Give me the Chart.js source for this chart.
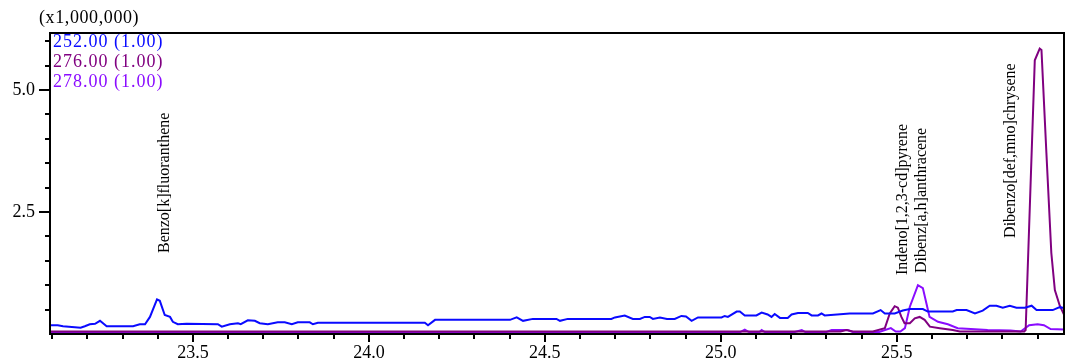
<!DOCTYPE html>
<html>
<head>
<meta charset="utf-8">
<script src="https://cdn.jsdelivr.net/npm/chart.js@4.4.1/dist/chart.umd.min.js"></script>
<style>
  html, body { margin: 0; padding: 0; background: #fff; }
  #chart { display: block; }
</style>
</head>
<body>
<canvas id="chart" width="1066" height="362"></canvas>
<script>
"use strict";

// retention time (min) / intensity (x1,000,000)
var times252 = [23.094, 23.102, 23.116, 23.131, 23.181, 23.193, 23.207, 23.222, 23.236, 23.255, 23.330, 23.349, 23.364, 23.378, 23.398, 23.406, 23.420, 23.435, 23.443, 23.457, 23.482, 23.571, 23.582, 23.605, 23.628, 23.636, 23.656, 23.676, 23.690, 23.713, 23.741, 23.761, 23.781, 23.798, 23.832, 23.841, 23.855, 24.159, 24.168, 24.188, 24.401, 24.420, 24.438, 24.466, 24.533, 24.543, 24.565, 24.689, 24.699, 24.727, 24.750, 24.770, 24.784, 24.798, 24.807, 24.827, 24.847, 24.869, 24.888, 24.901, 24.917, 24.935, 25.002, 25.011, 25.020, 25.045, 25.054, 25.068, 25.101, 25.116, 25.133, 25.144, 25.153, 25.168, 25.190, 25.201, 25.219, 25.247, 25.258, 25.276, 25.286, 25.295, 25.366, 25.432, 25.454, 25.466, 25.494, 25.517, 25.537, 25.574, 25.588, 25.659, 25.670, 25.698, 25.722, 25.744, 25.764, 25.783, 25.801, 25.821, 25.840, 25.864, 25.883, 25.897, 25.943, 25.963, 25.975];
var int252 = [0.18, 0.18, 0.18, 0.16, 0.13, 0.16, 0.20, 0.21, 0.27, 0.16, 0.16, 0.20, 0.20, 0.35, 0.71, 0.68, 0.39, 0.35, 0.25, 0.20, 0.21, 0.20, 0.15, 0.20, 0.22, 0.20, 0.28, 0.27, 0.22, 0.20, 0.24, 0.24, 0.20, 0.24, 0.24, 0.20, 0.23, 0.23, 0.18, 0.29, 0.29, 0.34, 0.27, 0.31, 0.31, 0.27, 0.31, 0.31, 0.34, 0.38, 0.31, 0.31, 0.35, 0.35, 0.31, 0.34, 0.31, 0.31, 0.37, 0.36, 0.27, 0.34, 0.34, 0.37, 0.35, 0.46, 0.46, 0.38, 0.38, 0.44, 0.40, 0.35, 0.41, 0.33, 0.33, 0.40, 0.43, 0.43, 0.38, 0.38, 0.42, 0.38, 0.42, 0.42, 0.49, 0.42, 0.42, 0.48, 0.51, 0.51, 0.46, 0.46, 0.49, 0.49, 0.42, 0.48, 0.58, 0.58, 0.54, 0.58, 0.54, 0.54, 0.58, 0.49, 0.49, 0.55, 0.53];

var times276 = [23.094, 25.340, 25.357, 25.375, 25.432, 25.466, 25.480, 25.494, 25.503, 25.513, 25.522, 25.537, 25.551, 25.565, 25.579, 25.594, 25.622, 25.659, 25.679, 25.862, 25.866, 25.892, 25.906, 25.911, 25.925, 25.939, 25.949, 25.963, 25.975];
var int276 = [0.05, 0.05, 0.08, 0.05, 0.05, 0.12, 0.42, 0.57, 0.54, 0.35, 0.22, 0.22, 0.32, 0.35, 0.29, 0.15, 0.12, 0.08, 0.05, 0.05, 0.08, 5.61, 5.85, 5.82, 3.71, 1.66, 0.90, 0.58, 0.40];

var times278 = [23.094, 25.055, 25.068, 25.080, 25.110, 25.116, 25.125, 25.210, 25.230, 25.240, 25.300, 25.315, 25.360, 25.375, 25.450, 25.483, 25.497, 25.510, 25.523, 25.537, 25.560, 25.574, 25.584, 25.593, 25.617, 25.645, 25.673, 25.710, 25.758, 25.823, 25.852, 25.876, 25.900, 25.918, 25.937, 25.975];
var int278 = [0.04, 0.04, 0.09, 0.04, 0.04, 0.08, 0.04, 0.04, 0.08, 0.04, 0.04, 0.08, 0.08, 0.04, 0.04, 0.12, 0.05, 0.05, 0.12, 0.56, 1.00, 0.94, 0.63, 0.35, 0.25, 0.20, 0.12, 0.10, 0.08, 0.07, 0.05, 0.18, 0.20, 0.18, 0.10, 0.09];

var seriesNames = ["252.00 (1.00)", "276.00 (1.00)", "278.00 (1.00)"];
var seriesColors = ["#0a0aff", "#800080", "#8a0cff"];

var xTickLabels = ["23.5", "24.0", "24.5", "25.0", "25.5"];
var yTickLabels = ["2.5", "5.0"];
var yUnitLabel = "(x1,000,000)";

// peak annotations: name, time where text sits, level where text starts
var peakNames = ["Benzo[k]fluoranthene", "Indeno[1,2,3-cd]pyrene", "Dibenz[a,h]anthracene", "Dibenzo[def,mno]chrysene"];
var peakTimes = [23.420, 25.518, 25.570, 25.824];
var peakLevels = [1.66, 1.21, 1.25, 1.97];

var FONT = "'Liberation Serif', 'Times New Roman', serif";

function toPoints(xs, ys) {
    var out = [];
    for (var i = 0; i < xs.length; i++) {
        out.push({ x: xs[i], y: ys[i] });
    }
    return out;
}

function stepTicks(from, to, step) {
    var out = [];
    for (var v = from; v <= to + 1e-9; v += step) {
        out.push({ value: Math.round(v * 100) / 100 });
    }
    return out;
}

// frame, tick marks, legend text, unit label and peak names
var chromPlugin = {
    id: "chrom",
    afterDraw: function (chart) {
        var ctx = chart.ctx;
        var area = chart.chartArea;
        var xs = chart.scales.x;
        var ys = chart.scales.y;
        ctx.save();

        ctx.strokeStyle = "#000";
        ctx.lineWidth = 2;
        ctx.strokeRect(area.left, area.top, area.right - area.left, area.bottom - area.top);

        ctx.beginPath();
        xs.ticks.forEach(function (t) {
            var px = Math.round(xs.getPixelForValue(t.value));
            var len = xTickLabels.indexOf(t.value.toFixed(1)) >= 0 ? 8 : 5;
            ctx.moveTo(px, area.bottom);
            ctx.lineTo(px, area.bottom + len);
        });
        ys.ticks.forEach(function (t) {
            var py = Math.round(ys.getPixelForValue(t.value));
            var len = yTickLabels.indexOf(t.value.toFixed(1)) >= 0 ? 11 : 5;
            ctx.moveTo(area.left, py);
            ctx.lineTo(area.left - len, py);
        });
        ctx.stroke();

        ctx.font = "18px " + FONT;
        ctx.textBaseline = "middle";
        ctx.textAlign = "left";
        ctx.letterSpacing = "1px";
        chart.data.datasets.forEach(function (ds, i) {
            ctx.fillStyle = ds.borderColor;
            ctx.fillText(ds.label, area.left + 3, area.top + 9 + i * 20);
        });

        ctx.fillStyle = "#000";
        ctx.letterSpacing = "0.6px";
        ctx.fillText(yUnitLabel, area.left - 11, 18);
        ctx.letterSpacing = "0px";

        ctx.font = "16px " + FONT;
        for (var i = 0; i < peakNames.length; i++) {
            ctx.save();
            ctx.translate(xs.getPixelForValue(peakTimes[i]), ys.getPixelForValue(peakLevels[i]));
            ctx.rotate(-Math.PI / 2);
            ctx.fillText(peakNames[i], 0, 0);
            ctx.restore();
        }
        ctx.restore();
    }
};

var datasets = [];
[[times252, int252], [times276, int276], [times278, int278]].forEach(function (s, i) {
    datasets.push({
        label: seriesNames[i],
        data: toPoints(s[0], s[1]),
        borderColor: seriesColors[i],
        backgroundColor: seriesColors[i],
        borderWidth: 2,
        pointRadius: 0,
        tension: 0,
        fill: false
    });
});

var chart = new Chart(document.getElementById("chart"), {
    type: "line",
    data: { datasets: datasets },
    plugins: [chromPlugin],
    options: {
        responsive: false,
        animation: false,
        events: [],
        layout: { padding: { top: 33, right: 2, left: 0, bottom: 0 } },
        plugins: { legend: { display: false }, tooltip: { enabled: false } },
        scales: {
            x: {
                type: "linear",
                min: 23.094,
                max: 25.975,
                afterBuildTicks: function (scale) { scale.ticks = stepTicks(23.1, 25.9, 0.1); },
                afterFit: function (scale) { scale.height = 28; },
                grid: { drawOnChartArea: false, color: "rgba(0,0,0,0)", tickLength: 6 },
                border: { display: false },
                ticks: {
                    autoSkip: false,
                    maxRotation: 0,
                    padding: 2,
                    color: "#000",
                    font: { family: FONT, size: 18 },
                    callback: function (v) {
                        var s = Number(v).toFixed(1);
                        return xTickLabels.indexOf(s) >= 0 ? s : "";
                    }
                }
            },
            y: {
                type: "linear",
                min: 0,
                max: 6.17,
                afterBuildTicks: function (scale) { scale.ticks = stepTicks(0.5, 6.0, 0.5); },
                afterFit: function (scale) { scale.width = 50; },
                grid: { drawOnChartArea: false, color: "rgba(0,0,0,0)", tickLength: 11 },
                border: { display: false },
                ticks: {
                    autoSkip: false,
                    padding: 4,
                    color: "#000",
                    font: { family: FONT, size: 18 },
                    callback: function (v) {
                        var s = Number(v).toFixed(1);
                        return yTickLabels.indexOf(s) >= 0 ? s : "";
                    }
                }
            }
        }
    }
});
</script>
</body>
</html>
